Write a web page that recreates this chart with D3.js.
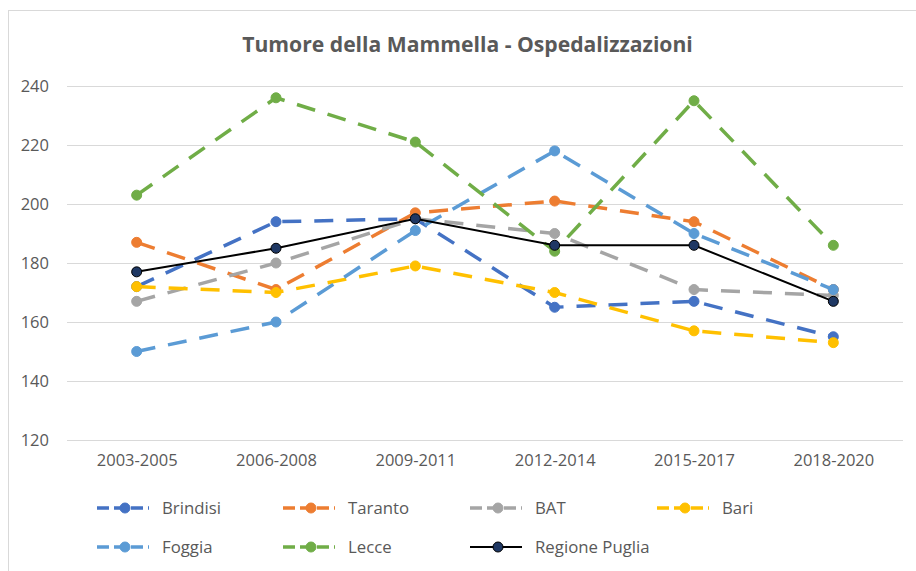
<!DOCTYPE html>
<html>
<head>
<meta charset="utf-8">
<script src="https://cdn.jsdelivr.net/npm/d3@7"></script>
<style>
  body { margin: 0; background: #fff; }
  text { font-family: "Open Sans", sans-serif; fill: #595959; }
</style>
</head>
<body>
<div id="chart"></div>
<script>
// periods on the x axis
var periods = ["2003-2005", "2006-2008", "2009-2011", "2012-2014", "2015-2017", "2018-2020"];
var yTicks = [120, 140, 160, 180, 200, 220, 240];

// values per province
var brindisi = [172, 194, 195, 165, 167, 155];
var taranto  = [187, 171, 197, 201, 194, 171];
var bat      = [167, 180, 195, 190, 171, 169];
var bari     = [172, 170, 179, 170, 157, 153];
var foggia   = [150, 160, 191, 218, 190, 171];
var lecce    = [203, 236, 221, 184, 235, 186];
var puglia   = [177, 185, 195, 186, 186, 167];

var seriesNames = ["Brindisi", "Taranto", "BAT", "Bari", "Foggia", "Lecce", "Regione Puglia"];
var seriesValues = [brindisi, taranto, bat, bari, foggia, lecce, puglia];
var seriesColors = ["#4472C4", "#ED7D31", "#A5A5A5", "#FFC000", "#5B9BD5", "#70AD47", "#000000"];

var width = 916, height = 571;

var svg = d3.select("#chart").append("svg")
  .attr("width", width)
  .attr("height", height);

// chart frame (only top/left edges are inside the picture)
svg.append("rect")
  .attr("x", 8.5).attr("y", 10.5)
  .attr("width", width + 10).attr("height", height + 10)
  .attr("fill", "#fff")
  .attr("stroke", "#d9d9d9");

var xScale = d3.scalePoint()
  .domain(periods)
  .range([67, 903])
  .padding(0.5);

var yScale = d3.scaleLinear()
  .domain([120, 240])
  .range([440, 86]);

// title
var title = svg.append("text")
  .attr("x", 467.5)
  .attr("y", 52)
  .attr("text-anchor", "middle")
  .style("font-weight", "bold")
  .style("font-size", "20px")
  .text("Tumore della Mammella - Ospedalizzazioni");
var tw = title.node().getComputedTextLength();
title.style("font-size", (20 * 451 / tw) + "px");

// gridlines + y labels
var yAxis = svg.append("g")
  .attr("transform", "translate(67,0)")
  .call(d3.axisLeft(yScale).tickValues(yTicks).tickSize(-836).tickPadding(18).tickFormat(d3.format("d")));
yAxis.select(".domain").remove();
yAxis.selectAll(".tick line").attr("stroke", "#d9d9d9").attr("stroke-width", 1.2);
yAxis.selectAll(".tick text")
  .attr("fill", "#595959")
  .style("font-family", "Open Sans, sans-serif")
  .style("font-size", "16.5px");

// x labels
var xAxis = svg.append("g")
  .attr("transform", "translate(0,440)")
  .call(d3.axisBottom(xScale).tickSize(0).tickPadding(14));
xAxis.select(".domain").remove();
xAxis.selectAll(".tick text")
  .attr("fill", "#595959")
  .style("font-family", "Open Sans, sans-serif")
  .style("font-size", "16.5px");

var line = d3.line()
  .x(function(d, i) { return xScale(periods[i]); })
  .y(function(d) { return yScale(d); });

seriesValues.forEach(function(vals, k) {
  var isTotal = k === seriesValues.length - 1;
  var col = seriesColors[k];
  var g = svg.append("g");
  g.append("path")
    .datum(vals)
    .attr("fill", "none")
    .attr("stroke", col)
    .attr("stroke-width", isTotal ? 2 : 3.5)
    .attr("stroke-dasharray", isTotal ? null : "19,13")
    .attr("d", line);
  g.selectAll("circle")
    .data(vals)
    .enter().append("circle")
    .attr("cx", function(d, i) { return xScale(periods[i]); })
    .attr("cy", function(d) { return yScale(d); })
    .attr("r", 5)
    .attr("fill", isTotal ? "#1F3864" : col)
    .attr("stroke", col)
    .attr("stroke-width", 1);
});

// legend, 4 per row
var legendX = [97, 283, 470, 657];
var legendY = [508, 547];
seriesNames.forEach(function(name, k) {
  var isTotal = k === seriesNames.length - 1;
  var col = seriesColors[k];
  var lx = legendX[k % 4], ly = legendY[Math.floor(k / 4)];
  var lg = svg.append("g").attr("transform", "translate(" + lx + "," + ly + ")");
  lg.append("line")
    .attr("x1", 0).attr("x2", 52)
    .attr("y1", 0).attr("y2", 0)
    .attr("stroke", col)
    .attr("stroke-width", isTotal ? 2 : 3.5)
    .attr("stroke-dasharray", isTotal ? null : "12,5");
  lg.append("circle")
    .attr("cx", 28).attr("cy", 0).attr("r", 5)
    .attr("fill", isTotal ? "#1F3864" : col)
    .attr("stroke", col);
  lg.append("text")
    .attr("x", 65).attr("y", 0)
    .attr("dy", "0.35em")
    .style("font-size", "16.8px")
    .text(name);
});
</script>
</body>
</html>
